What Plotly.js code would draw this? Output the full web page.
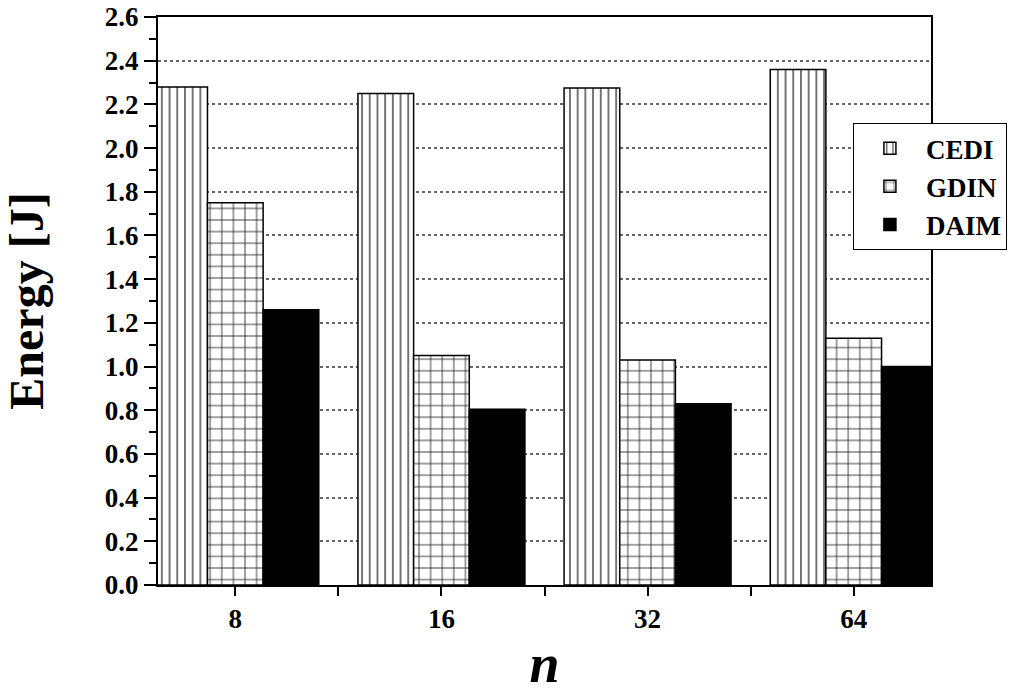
<!DOCTYPE html>
<html>
<head>
<meta charset="utf-8">
<script src="https://cdn.plot.ly/plotly-3.0.1.min.js"></script>
<style>
  html, body { margin: 0; padding: 0; background: #fff; }
  #chart { width: 1024px; height: 694px; }
</style>
</head>
<body>
<div id="chart"></div>
<script>
// Energy per method for each n
const categories = ["8", "16", "32", "64"];
const cedi = [2.28, 2.25, 2.275, 2.36];
const gdin = [1.75, 1.05, 1.03, 1.13];
const daim = [1.26, 0.805, 0.83, 1.0];

const positions = categories.map((_, i) => i);
const fontFamily = "Liberation Serif, Times New Roman, serif";

function barTrace(name, values, pattern) {
    return {
        type: "bar",
        name: name,
        x: positions,
        y: values,
        marker: {
            color: "#ffffff",
            line: { color: "#000000", width: 1.5 },
            pattern: pattern,
        },
        hovertemplate: name + " n=%{x}: %{y}<extra></extra>",
    };
}

const traces = [
    barTrace("CEDI", cedi, { shape: "|", size: 7.7, solidity: 0.16, fgcolor: "#222", bgcolor: "#fff" }),
    barTrace("GDIN", gdin, { shape: "+", size: 11.6, solidity: 0.14, fgcolor: "#222", bgcolor: "#fff" }),
    barTrace("DAIM", daim, { shape: "", fgcolor: "#000" }),
];
traces[2].marker.color = "#000000";

const layout = {
    width: 1024,
    height: 694,
    paper_bgcolor: "#ffffff",
    plot_bgcolor: "#ffffff",
    font: { family: fontFamily, color: "#000", size: 27 },
    barmode: "group",
    bargap: 0.19,
    bargroupgap: 0,
    margin: { l: 158, r: 93, t: 17, b: 109 },
    showlegend: true,
    legend: {
        x: 0.899, y: 0.813, xanchor: "left", yanchor: "top",
        bgcolor: "#ffffff",
        bordercolor: "#000000",
        borderwidth: 1,
        font: { family: fontFamily, size: 27, weight: "bold" },
        itemwidth: 62,
        tracegroupgap: 0,
    },
    xaxis: {
        range: [-0.375, 3.375],
        tickmode: "array",
        tickvals: positions,
        ticktext: categories,
        ticks: "outside",
        ticklen: 9,
        tickwidth: 2,
        tickcolor: "#000",
        minor: { tick0: 0.5, dtick: 1, ticks: "outside", ticklen: 9, tickwidth: 2, tickcolor: "#000" },
        tickfont: { family: fontFamily, size: 27, weight: "bold" },
        showline: true,
        linecolor: "#000",
        linewidth: 2,
        mirror: true,
        showgrid: false,
        zeroline: false,
        title: {
            text: "<i>n</i>",
            font: { family: fontFamily, size: 54, weight: "bold" },
            standoff: 26,
        },
    },
    yaxis: {
        range: [0, 2.6],
        dtick: 0.2,
        tickformat: ".1f",
        ticks: "outside",
        ticklen: 12,
        tickwidth: 2,
        tickcolor: "#000",
        minor: { dtick: 0.1, ticks: "outside", ticklen: 7, tickwidth: 2, tickcolor: "#000", showgrid: false },
        tickfont: { family: fontFamily, size: 27, weight: "bold" },
        showline: true,
        linecolor: "#000",
        linewidth: 2,
        mirror: true,
        showgrid: true,
        gridcolor: "#666",
        gridwidth: 1.5,
        griddash: "dot",
        zeroline: false,
        title: {
            text: "Energy [J]",
            font: { family: fontFamily, size: 48, weight: "bold" },
            standoff: 46,
        },
    },
};

Plotly.newPlot("chart", traces, layout, { displayModeBar: false, responsive: false });
</script>
</body>
</html>
